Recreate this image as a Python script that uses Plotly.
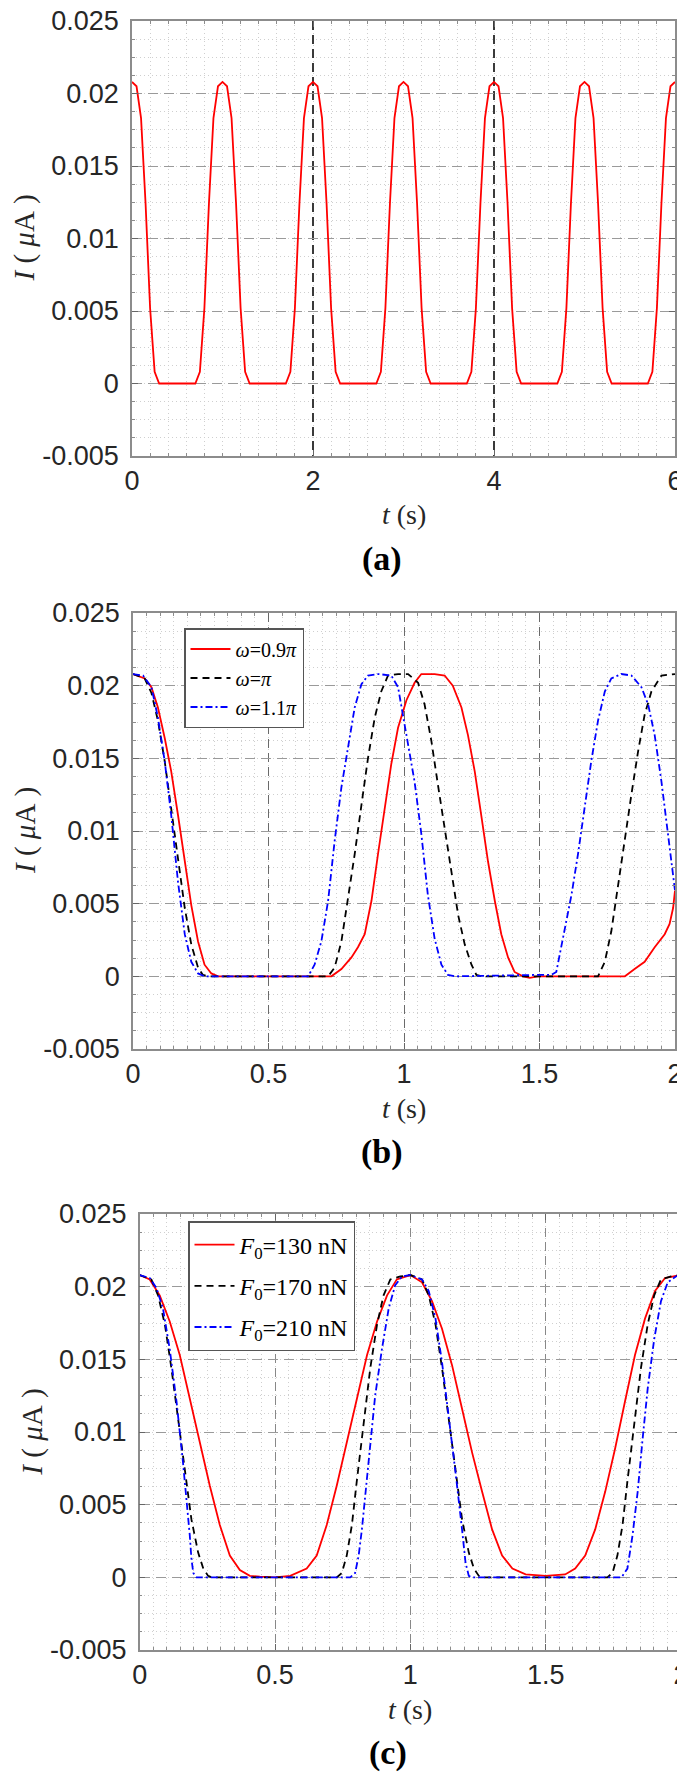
import plotly.graph_objects as go

# ---- panel (a): omega = pi, 0..6 s
t_a = [0, 0.05, 0.1, 0.15, 0.2, 0.25, 0.3, 0.7, 0.75, 0.8, 0.85, 0.9, 0.95,
       1, 1.05, 1.1, 1.15, 1.2, 1.25, 1.3, 1.7, 1.75, 1.8, 1.85, 1.9, 1.95,
       2, 2.05, 2.1, 2.15, 2.2, 2.25, 2.3, 2.7, 2.75, 2.8, 2.85, 2.9, 2.95,
       3, 3.05, 3.1, 3.15, 3.2, 3.25, 3.3, 3.7, 3.75, 3.8, 3.85, 3.9, 3.95,
       4, 4.05, 4.1, 4.15, 4.2, 4.25, 4.3, 4.7, 4.75, 4.8, 4.85, 4.9, 4.95,
       5, 5.05, 5.1, 5.15, 5.2, 5.25, 5.3, 5.7, 5.75, 5.8, 5.85, 5.9, 5.95,
       6]
i_a = [0.0208, 0.0205, 0.0183, 0.0124, 0.0052, 0.0008, 0, 0, 0.0008, 0.0052, 0.0124, 0.0183, 0.0205,
       0.0208, 0.0205, 0.0183, 0.0124, 0.0052, 0.0008, 0, 0, 0.0008, 0.0052, 0.0124, 0.0183, 0.0205,
       0.0208, 0.0205, 0.0183, 0.0124, 0.0052, 0.0008, 0, 0, 0.0008, 0.0052, 0.0124, 0.0183, 0.0205,
       0.0208, 0.0205, 0.0183, 0.0124, 0.0052, 0.0008, 0, 0, 0.0008, 0.0052, 0.0124, 0.0183, 0.0205,
       0.0208, 0.0205, 0.0183, 0.0124, 0.0052, 0.0008, 0, 0, 0.0008, 0.0052, 0.0124, 0.0183, 0.0205,
       0.0208, 0.0205, 0.0183, 0.0124, 0.0052, 0.0008, 0, 0, 0.0008, 0.0052, 0.0124, 0.0183, 0.0205,
       0.0208]

# ---- panel (b): different omega
t_b_red = [0, 0.043, 0.068, 0.092, 0.117, 0.141, 0.166, 0.191, 0.215, 0.24,
           0.264, 0.289, 0.314, 0.732, 0.769, 0.806, 0.83, 0.855, 0.88, 0.904,
           0.929, 0.953, 0.978, 1.009, 1.039, 1.064, 1.113, 1.15, 1.18, 1.212,
           1.236, 1.261, 1.285, 1.31, 1.335, 1.359, 1.384, 1.408, 1.439, 1.464,
           1.494, 1.815, 1.851, 1.888, 1.925, 1.962, 1.98, 1.993, 2.0]
i_b_red = [0.0208, 0.0205, 0.0199, 0.0185, 0.0164, 0.0141, 0.0111, 0.0079, 0.0049, 0.0024,
           0.0008, 0.0002, 0, 0, 0.0005, 0.0013, 0.002, 0.0029, 0.0052, 0.0084,
           0.0116, 0.0146, 0.0171, 0.019, 0.0202, 0.0208, 0.0208, 0.0207, 0.02, 0.0185,
           0.0166, 0.0141, 0.0111, 0.0079, 0.0052, 0.0029, 0.0013, 0.0003, 0, -0.0001,
           0, 0, 0.0005, 0.001, 0.002, 0.0029, 0.0036, 0.0047, 0.0059]

t_b_black = [0, 0.043, 0.068, 0.092, 0.117, 0.141, 0.166, 0.191, 0.215, 0.24,
             0.258, 0.277, 0.72, 0.744, 0.769, 0.793, 0.818, 0.843, 0.867, 0.892,
             0.916, 0.941, 0.978, 1.015, 1.052, 1.076, 1.101, 1.125, 1.15, 1.175,
             1.2, 1.224, 1.249, 1.267, 1.286, 1.716, 1.741, 1.765, 1.79, 1.814,
             1.839, 1.864, 1.888, 1.913, 1.95, 2.0]
i_b_black = [0.0208, 0.0205, 0.0195, 0.0176, 0.0148, 0.0116, 0.0079, 0.0047, 0.0022, 0.0006,
             0.0001, 0, 0, 0.0006, 0.0024, 0.0052, 0.0084, 0.0118, 0.015, 0.0178,
             0.0196, 0.0207, 0.0208, 0.0208, 0.0202, 0.0187, 0.0162, 0.0132, 0.0102, 0.007,
             0.0042, 0.0022, 0.0008, 0.0001, 0, 0, 0.001, 0.0031, 0.0061, 0.0093,
             0.0125, 0.0155, 0.018, 0.0196, 0.0207, 0.0208]

t_b_blue = [0, 0.037, 0.068, 0.092, 0.117, 0.141, 0.166, 0.191, 0.215, 0.24,
            0.264, 0.646, 0.67, 0.695, 0.72, 0.744, 0.769, 0.793, 0.818, 0.843,
            0.867, 0.904, 0.953, 0.978, 1.01, 1.039, 1.064, 1.088, 1.113, 1.138,
            1.162, 1.187, 1.5, 1.543, 1.562, 1.593, 1.618, 1.642, 1.667, 1.691,
            1.716, 1.741, 1.765, 1.802, 1.839, 1.876, 1.901, 1.925, 1.95, 1.974,
            2.0]
i_b_blue = [0.0208, 0.0207, 0.0199, 0.0178, 0.0148, 0.0111, 0.0065, 0.0029, 0.001, 0.0002,
            0, 0, 0.0008, 0.0024, 0.0052, 0.0093, 0.013, 0.0157, 0.0185, 0.0201,
            0.0207, 0.0208, 0.0207, 0.0199, 0.0166, 0.0134, 0.0098, 0.0056, 0.0026, 0.0008,
            0.0001, 0, 0.0001, 0.0001, 0.0003, 0.0031, 0.0056, 0.0084, 0.0116, 0.0148,
            0.0176, 0.0196, 0.0205, 0.0208, 0.0207, 0.0199, 0.0187, 0.0166, 0.0134, 0.0098,
            0.0059]

# ---- panel (c): different F0
t_c_red = [0, 0.037, 0.074, 0.111, 0.148, 0.185, 0.222, 0.259, 0.296, 0.333,
           0.37, 0.407, 0.444, 0.5, 0.556, 0.617, 0.654, 0.691, 0.728, 0.765,
           0.802, 0.84, 0.877, 0.914, 0.95, 1.0, 1.043, 1.08, 1.117, 1.154,
           1.191, 1.228, 1.265, 1.302, 1.339, 1.377, 1.426, 1.5, 1.572, 1.609,
           1.646, 1.683, 1.72, 1.757, 1.793, 1.83, 1.867, 1.904, 1.941, 2.0]
i_c_red = [0.0208, 0.0205, 0.0194, 0.0176, 0.0153, 0.0123, 0.0093, 0.0063, 0.0036, 0.0015,
           0.0005, 0.0001, 0.00005, 0, 0.0001, 0.0006, 0.0015, 0.0036, 0.0063, 0.0093,
           0.0123, 0.0153, 0.0176, 0.0194, 0.0205, 0.0208, 0.0203, 0.019, 0.0171, 0.0146,
           0.0116, 0.0086, 0.0059, 0.0033, 0.0015, 0.0006, 0.0002, 0.0001, 0.0002, 0.0006,
           0.0015, 0.0033, 0.0059, 0.0089, 0.0121, 0.0153, 0.0178, 0.0197, 0.0206, 0.0208]

t_c_black = [0, 0.043, 0.068, 0.093, 0.117, 0.142, 0.167, 0.191, 0.216, 0.235,
             0.253, 0.265, 0.728, 0.747, 0.765, 0.784, 0.802, 0.827, 0.852, 0.877,
             0.901, 0.926, 0.963, 1.0, 1.043, 1.068, 1.093, 1.117, 1.142, 1.167,
             1.191, 1.216, 1.235, 1.253, 1.265, 1.728, 1.747, 1.765, 1.784, 1.802,
             1.827, 1.852, 1.877, 1.901, 1.926, 1.963, 2.0]
i_c_black = [0.0208, 0.0205, 0.0194, 0.0174, 0.0144, 0.0109, 0.0072, 0.004, 0.0017, 0.0006,
             0.0001, 0, 0, 0.0003, 0.0015, 0.0036, 0.0066, 0.0107, 0.0144, 0.0174,
             0.0194, 0.0205, 0.0207, 0.0208, 0.0205, 0.0194, 0.0174, 0.0144, 0.0109, 0.0072,
             0.004, 0.0017, 0.0006, 0.0001, 0, 0, 0.0003, 0.0015, 0.0036, 0.0066,
             0.0107, 0.0144, 0.0174, 0.0194, 0.0205, 0.0207, 0.0208]

t_c_blue = [0, 0.037, 0.062, 0.086, 0.111, 0.136, 0.16, 0.173, 0.185, 0.191,
            0.198, 0.21, 0.778, 0.796, 0.809, 0.821, 0.833, 0.852, 0.87, 0.895,
            0.92, 0.944, 0.969, 1.0, 1.043, 1.068, 1.093, 1.117, 1.142, 1.167,
            1.191, 1.204, 1.216, 1.228, 1.78, 1.802, 1.821, 1.84, 1.858, 1.877,
            1.901, 1.926, 1.951, 1.981, 2.0]
i_c_blue = [0.0208, 0.0206, 0.0199, 0.0185, 0.0157, 0.0121, 0.0079, 0.0054, 0.0029, 0.0013,
            0.0003, 0, 0, 0.0003, 0.0015, 0.0033, 0.0056, 0.0093, 0.0125, 0.0157,
            0.0185, 0.0201, 0.0207, 0.0208, 0.0205, 0.0197, 0.0178, 0.0148, 0.0111, 0.0072,
            0.0033, 0.001, 0.0001, 0, 0, 0.0006, 0.0029, 0.0059, 0.0095, 0.013,
            0.0164, 0.019, 0.0203, 0.0207, 0.0208]

y_ticks = [-0.005, 0, 0.005, 0.01, 0.015, 0.02, 0.025]
y_ticktext = ["-0.005", "0", "0.005", "0.01", "0.015", "0.02", "0.025"]
x_ticks_a = [0, 2, 4, 6]
x_ticks_bc = [0, 0.5, 1, 1.5, 2]
x_ticktext_bc = ["0", "0.5", "1", "1.5", "2"]

W, H = 685, 1789
SANS = "Liberation Sans, Arial, sans-serif"
SERIF = "Liberation Serif, Times New Roman, serif"
RED, BLACK, BLUE = "#ff0000", "#000000", "#0000ff"
DASH = "7px,5px"
DASHDOT = "7px,3px,2px,3px"

# plot boxes in pixels: (left, right, top, bottom)
boxes = {1: (124, 667, 13, 448), 2: (125, 667, 605, 1041), 3: (131.7, 673, 1206, 1642)}
vgrid = {1: ("#3a3a3a", 1.5), 2: ("#6a6a6a", 1.0), 3: ("#888888", 1.0)}

fig = go.Figure()


def px_x(v):
    return v / W


def px_y(v):
    return 1 - v / H


def line(x, y, color, dash, n, name=None, legend=None):
    fig.add_trace(go.Scatter(
        x=x, y=y, mode="lines", name=name, legendgroup=name,
        line=dict(color=color, width=1.8, dash=dash),
        xaxis="x" if n == 1 else f"x{n}", yaxis="y" if n == 1 else f"y{n}",
        showlegend=legend is not None, legend=legend or "legend",
    ))


line(t_a, i_a, RED, "solid", 1)

line(t_b_red, i_b_red, RED, "solid", 2, "<i>ω</i>=0.9<i>π</i>", "legend2")
line(t_b_black, i_b_black, BLACK, DASH, 2, "<i>ω</i>=<i>π</i>", "legend2")
line(t_b_blue, i_b_blue, BLUE, DASHDOT, 2, "<i>ω</i>=1.1<i>π</i>", "legend2")

line(t_c_red, i_c_red, RED, "solid", 3, "<i>F</i><sub>0</sub>=130 nN", "legend3")
line(t_c_black, i_c_black, BLACK, DASH, 3, "<i>F</i><sub>0</sub>=170 nN", "legend3")
line(t_c_blue, i_c_blue, BLUE, DASHDOT, 3, "<i>F</i><sub>0</sub>=210 nN", "legend3")

layout = {}
annotations = []
for n, (l, r, t, b) in boxes.items():
    sx = "" if n == 1 else str(n)
    xmax = 6 if n == 1 else 2
    gc, gw = vgrid[n]
    layout[f"xaxis{sx}"] = dict(
        domain=[px_x(l), px_x(r)], anchor=f"y{sx}", range=[0, xmax],
        tickmode="array",
        tickvals=x_ticks_a if n == 1 else x_ticks_bc,
        ticktext=[str(v) for v in x_ticks_a] if n == 1 else x_ticktext_bc,
        showgrid=True, gridcolor=gc, gridwidth=gw, griddash="9px,5px",
        minor=dict(dtick=0.2 if n == 1 else 0.05, tick0=0, showgrid=True,
                   gridcolor="#cfcfcf", gridwidth=1, griddash="1px,3px",
                   ticks="inside", ticklen=3, tickcolor="#8c8c8c"),
        ticks="inside", ticklen=6, tickcolor="#666666",
        showline=True, linecolor="#8c8c8c", linewidth=1.5, mirror="ticks",
        zeroline=False, automargin=False, ticklabelstandoff=0,
        ticklabeloverflow="allow",
        tickfont=dict(family=SANS, size=27, color="#262626"),
    )
    layout[f"yaxis{sx}"] = dict(
        domain=[px_y(b), px_y(t)], anchor=f"x{sx}", range=[-0.005, 0.025],
        tickmode="array", tickvals=y_ticks, ticktext=y_ticktext,
        showgrid=True, gridcolor="#9a9a9a", gridwidth=1.2, griddash="10px,6px",
        minor=dict(dtick=0.00125, tick0=0, showgrid=True,
                   gridcolor="#cfcfcf", gridwidth=1, griddash="1px,3px",
                   ticks="inside", ticklen=3, tickcolor="#8c8c8c"),
        ticks="inside", ticklen=6, tickcolor="#666666",
        showline=True, linecolor="#8c8c8c", linewidth=1.5, mirror="ticks",
        zeroline=False, automargin=False, ticklabelstandoff=6,
        ticklabeloverflow="allow",
        tickfont=dict(family=SANS, size=27, color="#262626"),
    )
    cx = (l + r) / 2
    cy = (t + b) / 2
    annotations.append(dict(
        text="<i>I</i>\u00a0(\u00a0<i>μ</i>A\u00a0)", x=px_x(l - 108), y=px_y(cy),
        xref="paper", yref="paper", xanchor="center", yanchor="middle",
        textangle=-90, showarrow=False,
        font=dict(family=SERIF, size=29, color="#262626"),
    ))
    annotations.append(dict(
        text="<i>t</i> (s)", x=px_x(cx), y=px_y(b + 59),
        xref="paper", yref="paper", xanchor="center", yanchor="middle",
        showarrow=False,
        font=dict(family=SERIF, size=28, color="#262626"),
    ))
    annotations.append(dict(
        text="<b>(" + "abc"[n - 1] + ")</b>", x=px_x(cx - 22), y=px_y(b + 103),
        xref="paper", yref="paper", xanchor="center", yanchor="middle",
        showarrow=False,
        font=dict(family=SERIF, size=34, color="#000000"),
    ))

legend_style = dict(
    xanchor="left", yanchor="top", bgcolor="#ffffff",
    bordercolor="#555555", borderwidth=1.5, itemwidth=40, itemclick=False,
)

fig.update_layout(
    **layout,
    width=W, height=H,
    margin=dict(l=0, r=0, t=0, b=0),
    paper_bgcolor="#ffffff", plot_bgcolor="#ffffff",
    showlegend=True,
    legend2=dict(x=px_x(176), y=px_y(620), tracegroupgap=0,
                 font=dict(family=SERIF, size=20, color="#000000"), **legend_style),
    legend3=dict(x=px_x(180), y=px_y(1213), tracegroupgap=7,
                 font=dict(family=SERIF, size=24, color="#000000"), **legend_style),
    annotations=annotations,
)

fig.write_html("out.html")
